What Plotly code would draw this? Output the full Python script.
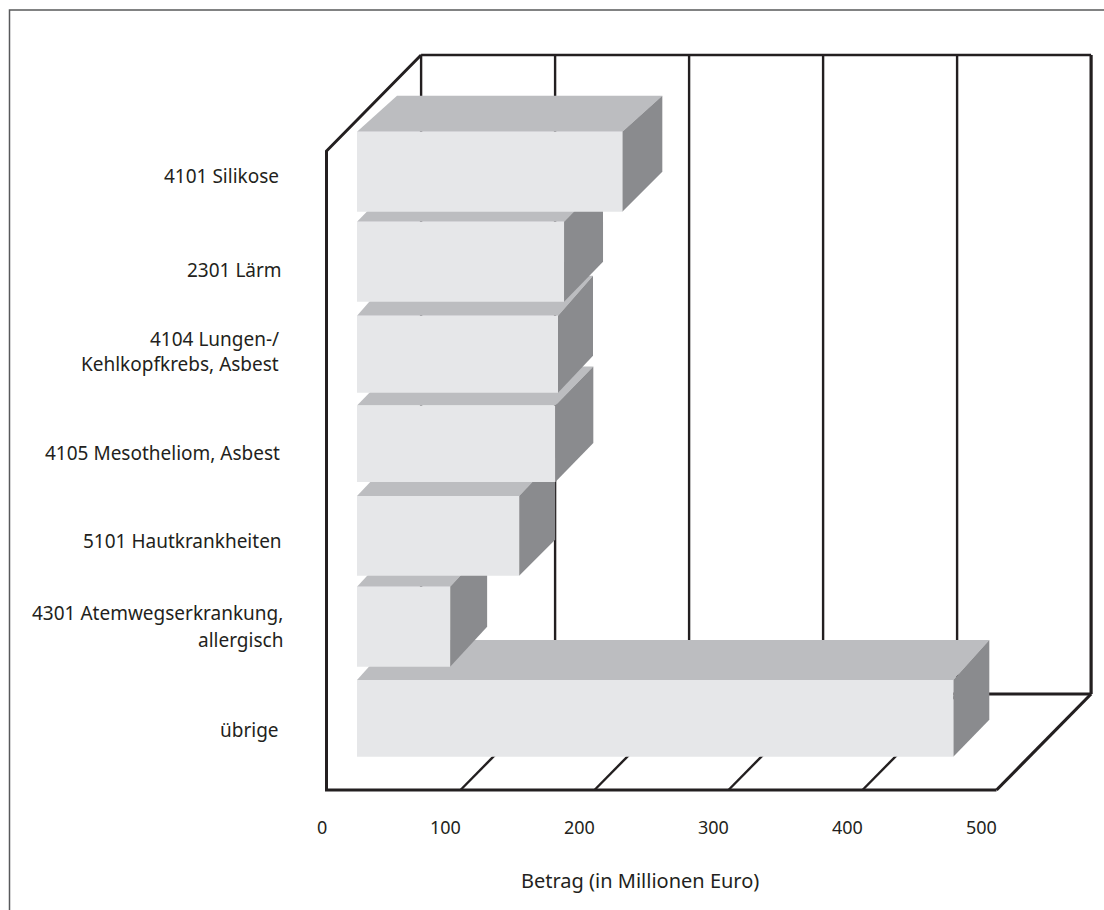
import plotly.graph_objects as go

# Chart data
categories = [
    ["4101 Silikose"],
    ["2301 Lärm"],
    ["4104 Lungen-/", "Kehlkopfkrebs, Asbest"],
    ["4105 Mesotheliom, Asbest"],
    ["5101 Hautkrankheiten"],
    ["4301 Atemwegserkrankung,", "allergisch"],
    ["übrige"],
]
values = [198, 154.5, 150, 148, 121, 69.5, 445]
tick_values = [0, 100, 200, 300, 400, 500]
axis_title = "Betrag (in Millionen Euro)"

# Canvas geometry: the vertical axis counts canvas rows, the horizontal one is in million euro
WIDTH, HEIGHT = 1104, 910
ZERO_PX = 326.5
PX_PER_UNIT = 1.34


def units(px):
    return px / PX_PER_UNIT


def at_px(px):
    return (px - ZERO_PX) / PX_PER_UNIT


# Pseudo-3D box layout
BAR_START = units(357 - ZERO_PX)
bar_top = [131.7, 221.7, 315.7, 405.5, 496, 586.7, 680]
bar_bottom = [211.7, 301.8, 392.7, 482, 575.7, 666.7, 756.7]
depth_x = [40, 39, 35, 38, 36, 37, 36]
depth_top = [36, 40, 40, 39, 38, 40, 40]
depth_bottom = [40, 40, 37, 39, 36, 40, 37]

WALL_DX = units(94.6)
WALL_DY = 96
FLOOR_Y = 790
CEIL_Y = 151

label_right = [281, 284, 281, 282, 284, 285, 281]
label_rows = [[176], [270], [339, 364], [453], [541], [613, 640], [730]]
TICK_Y = 827
TITLE_Y = 880
TICK_NUDGE = units(2)

INK = "#231F20"
FRONT = "#E6E7E9"
TOP = "#BCBDC0"
SIDE = "#8A8B8E"
FONT = dict(family="Noto Sans", size=19, color=INK)
TICK_FONT = dict(family="Noto Sans", size=18, color=INK)
TITLE_FONT = dict(family="Noto Sans", size=20, color=INK)

fig = go.Figure()


def line(xs, ys, width, color=INK):
    fig.add_trace(go.Scatter(x=xs, y=ys, mode="lines", hoverinfo="skip", showlegend=False,
                             line=dict(color=color, width=width)))


def face(xs, ys, color):
    fig.add_trace(go.Scatter(x=xs, y=ys, mode="lines", fill="toself", fillcolor=color,
                             hoverinfo="skip", showlegend=False,
                             line=dict(color=color, width=0)))


# Back wall verticals and floor diagonals
back_y = [CEIL_Y - WALL_DY, FLOOR_Y - WALL_DY]
for t in tick_values:
    width = 3.2 if t == tick_values[-1] else 2.4
    line([t + WALL_DX, t + WALL_DX], back_y, width)
    if t:
        line([t, t + WALL_DX], [FLOOR_Y, FLOOR_Y - WALL_DY], width)

# Wall top edge, wall bottom edge, front axis outline
end = tick_values[-1]
line([WALL_DX, end + WALL_DX], [CEIL_Y - WALL_DY, CEIL_Y - WALL_DY], 2.5)
line([WALL_DX, end + WALL_DX], [FLOOR_Y - WALL_DY, FLOOR_Y - WALL_DY], 3)
line([WALL_DX, 0, 0, end], [CEIL_Y - WALL_DY, CEIL_Y, FLOOR_Y, FLOOR_Y], 3)

# Boxes, painted bottom to top so that upper ones overlap the ones below
rows = list(zip(values, bar_top, bar_bottom, depth_x, depth_top, depth_bottom))
for value, top, bottom, dx, d_top, d_bot in reversed(rows):
    x0 = BAR_START
    x1 = BAR_START + value
    shift = units(dx)
    face([x0, x0 + shift, x1 + shift, x1, x0], [top, top - d_top, top - d_top, top, top], TOP)
    face([x1, x1 + shift, x1 + shift, x1, x1],
         [top, top - d_top, bottom - d_bot, bottom, top], SIDE)
    face([x0, x1, x1, x0, x0], [top, top, bottom, bottom, top], FRONT)

annotations = []
for lines, right, label_row in zip(categories, label_right, label_rows):
    for text, row in zip(lines, label_row):
        annotations.append(dict(x=at_px(right), y=row, text=text, xref="x", yref="y",
                                xanchor="right", yanchor="middle", showarrow=False,
                                align="right", font=FONT))
for t in tick_values:
    annotations.append(dict(x=t + TICK_NUDGE, y=TICK_Y, text=str(t), xref="x", yref="y",
                            xanchor="right", yanchor="middle", showarrow=False, font=TICK_FONT))
annotations.append(dict(x=at_px(640), y=TITLE_Y, text=axis_title, xref="x", yref="y",
                        xanchor="center", yanchor="middle", showarrow=False, font=TITLE_FONT))

# Thin page frame open at the right and bottom
frame_x = at_px(9.5)
line([frame_x, frame_x, at_px(WIDTH)], [HEIGHT, 10, 10], 1.5, "#58595B")

fig.update_layout(
    width=WIDTH, height=HEIGHT, autosize=False,
    margin=dict(l=0, r=0, t=0, b=0),
    paper_bgcolor="white", plot_bgcolor="white",
    showlegend=False,
    xaxis=dict(range=[at_px(0), at_px(WIDTH)], visible=False, fixedrange=True),
    yaxis=dict(range=[HEIGHT, 0], visible=False, fixedrange=True),
    annotations=annotations,
)

fig.write_html("out.html")
